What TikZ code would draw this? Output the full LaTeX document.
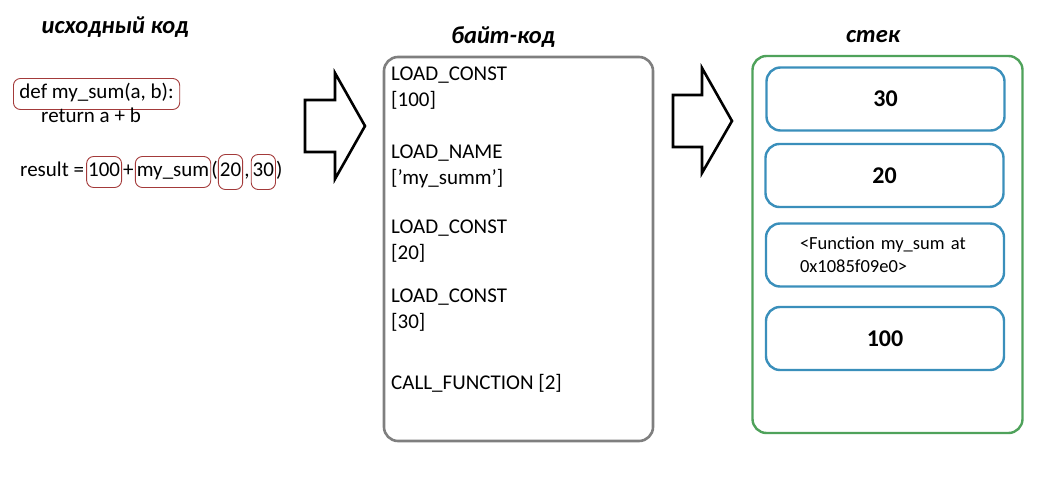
\documentclass[tikz,border=0pt]{standalone}
\usepackage{fontspec}
\setmainfont{Carlito}
\usetikzlibrary{positioning}

\definecolor{framegray}{HTML}{7F7F7F}
\definecolor{stackgreen}{HTML}{4FA25B}
\definecolor{slotblue}{HTML}{3A8FBB}
\definecolor{markred}{HTML}{A33A3A}

\begin{document}
\begin{tikzpicture}[
    x=1pt, y=-1pt,
    font=\fontsize{21}{26}\selectfont,
    title/.style={font=\fontsize{24.5}{28}\selectfont\bfseries\itshape},
    code/.style={inner sep=0pt, text height=15pt, text depth=5pt},
    markbox/.style={code, draw=markred, line width=0.9pt, rounded corners=7pt, inner xsep=1.5pt, minimum height=31pt},
    instr/.style={anchor=west, align=left, inner sep=0pt},
    frame/.style={draw, rounded corners=14pt, line width=2.6pt},
    slot/.style={draw=slotblue, line width=2.4pt, rounded corners=14pt, minimum width=238pt, minimum height=63pt},
    value/.style={slot, font=\fontsize{24}{28}\selectfont\bfseries},
    bigarrow/.style={draw, line width=2.6pt, line join=miter}
    ]

    \useasboundingbox (0,0) rectangle (1060,489);

    % titles
    \node [title] (srctitle) at (115,27) {исходный код};
    \node [title] (bytetitle) at (503,37) {байт-код};
    \node [title] (stacktitle) at (873,37) {стек};

    % source code
    \node [markbox, inner xsep=6pt, anchor=west] (defline) at (13,94) {def my\_sum(a, b):};
    \node [code, anchor=west] (retline) at (41,118) {return a + b};
    \node [code, anchor=west] (res) at (20,172) {result =};
    \node [markbox, right=2pt of res] (c100) {100};
    \node [code, right=0pt of c100, inner xsep=1pt] (plus) {+};
    \node [markbox, right=0pt of plus] (fname) {my\_sum};
    \node [code, right=0pt of fname] (lpar) {(};
    \node [markbox, right=0pt of lpar, minimum height=35pt] (c20) {20};
    \node [code, right=0pt of c20, inner xsep=1pt] (comma) {,};
    \node [markbox, right=0pt of comma, minimum height=35pt] (c30) {30};
    \node [code, right=0pt of c30] (rpar) {)};

    % block arrows
    \draw [bigarrow] (305,100) -- (335,100) -- (335,73) -- (365,126) -- (335,179) -- (335,152) -- (305,152) -- cycle;
    \draw [bigarrow] (673,95) -- (702,95) -- (702,68) -- (732,121) -- (702,173) -- (702,147) -- (673,147) -- cycle;

    % byte code
    \node [frame, draw=framegray, minimum width=269pt, minimum height=384pt] (bytecode) at (518.5,249) {};
    \node [instr] (op1) at (391,88) {LOAD\_CONST\\{[100]}};
    \node [instr] (op2) at (391,166) {LOAD\_NAME\\{['my\_summ']}};
    \node [instr] (op3) at (391,241) {LOAD\_CONST\\{[20]}};
    \node [instr] (op4) at (391,310) {LOAD\_CONST\\{[30]}};
    \node [instr] (op5) at (391,383) {CALL\_FUNCTION [2]};

    % stack
    \node [frame, draw=stackgreen, line width=2.4pt, minimum width=270pt, minimum height=377pt] (stack) at (887.5,244.5) {};
    \node [value] (top) at (885.5,99) {30};
    \node [value] (second) at (884.5,175.5) {20};
    \node [slot, text width=170pt, align=left, font=\fontsize{18.5}{23}\selectfont] (func) at (885,255) {<Function my\_sum at\\0x1085f09e0>};
    \node [value] (bottom) at (885,338.5) {100};
  \end{tikzpicture}
\end{document}
